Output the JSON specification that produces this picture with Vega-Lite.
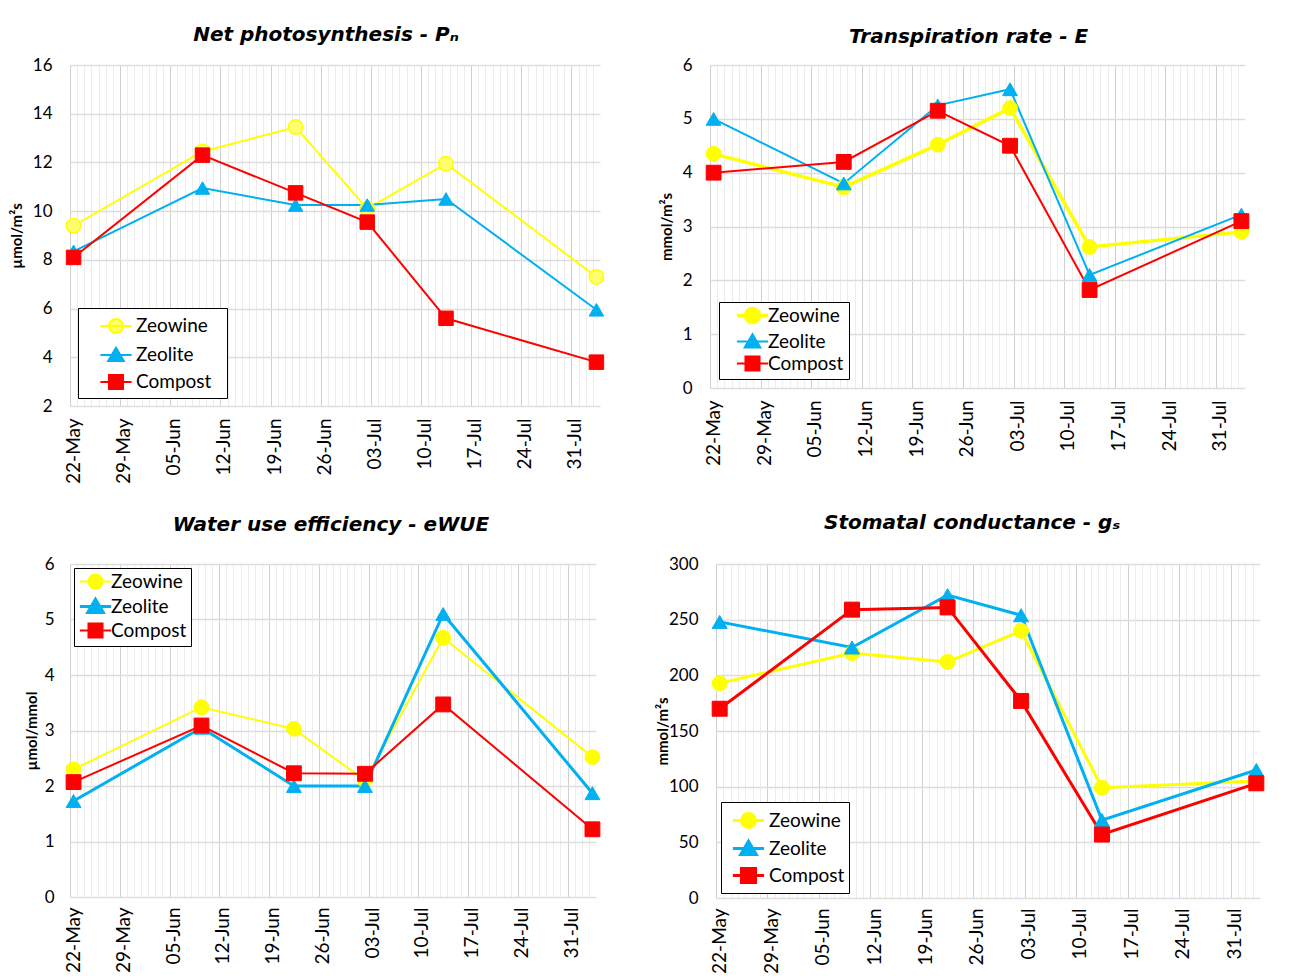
{
  "$schema": "https://vega.github.io/schema/vega-lite/v6.json",
  "background": "white",
  "padding": {"left": 9, "top": 25, "right": 0, "bottom": 0},
  "config": {
    "font": "Lato",
    "view": {"stroke": null},
    "title": {"font": "DejaVu Sans", "fontSize": 20, "fontStyle": "italic", "fontWeight": "bold", "color": "#000000", "anchor": "middle", "frame": "group"},
    "axis": {"labelColor": "#000000", "titleColor": "#000000", "domain": false, "ticks": false, "labelFont": "Lato", "titleFont": "Lato"},
    "legend": {"title": null, "labelFont": "Lato", "labelFontSize": 19, "labelColor": "#000000", "symbolSize": 676, "strokeColor": "#000000", "fillColor": "#ffffff", "padding": 4, "labelOffset": 6, "symbolOffset": 14, "titleFont": "Lato", "titleFontSize": 19}
  },
  "data": {"values": [
    {"p": "Pn", "s": "Zeowine", "d": "2019-05-22T00:00:00", "v": 9.4},
    {"p": "Pn", "s": "Zeowine", "d": "2019-06-09T00:00:00", "v": 12.45},
    {"p": "Pn", "s": "Zeowine", "d": "2019-06-22T00:00:00", "v": 13.45},
    {"p": "Pn", "s": "Zeowine", "d": "2019-07-02T00:00:00", "v": 10.1},
    {"p": "Pn", "s": "Zeowine", "d": "2019-07-13T00:00:00", "v": 11.95},
    {"p": "Pn", "s": "Zeowine", "d": "2019-08-03T00:00:00", "v": 7.3},
    {"p": "Pn", "s": "Zeolite", "d": "2019-05-22T00:00:00", "v": 8.35},
    {"p": "Pn", "s": "Zeolite", "d": "2019-06-09T00:00:00", "v": 10.95},
    {"p": "Pn", "s": "Zeolite", "d": "2019-06-22T00:00:00", "v": 10.25},
    {"p": "Pn", "s": "Zeolite", "d": "2019-07-02T00:00:00", "v": 10.25},
    {"p": "Pn", "s": "Zeolite", "d": "2019-07-13T00:00:00", "v": 10.5},
    {"p": "Pn", "s": "Zeolite", "d": "2019-08-03T00:00:00", "v": 5.95},
    {"p": "Pn", "s": "Compost", "d": "2019-05-22T00:00:00", "v": 8.1},
    {"p": "Pn", "s": "Compost", "d": "2019-06-09T00:00:00", "v": 12.3},
    {"p": "Pn", "s": "Compost", "d": "2019-06-22T00:00:00", "v": 10.75},
    {"p": "Pn", "s": "Compost", "d": "2019-07-02T00:00:00", "v": 9.55},
    {"p": "Pn", "s": "Compost", "d": "2019-07-13T00:00:00", "v": 5.6},
    {"p": "Pn", "s": "Compost", "d": "2019-08-03T00:00:00", "v": 3.8},
    {"p": "E", "s": "Zeowine", "d": "2019-05-22T00:00:00", "v": 4.35},
    {"p": "E", "s": "Zeowine", "d": "2019-06-09T00:00:00", "v": 3.73},
    {"p": "E", "s": "Zeowine", "d": "2019-06-22T00:00:00", "v": 4.52},
    {"p": "E", "s": "Zeowine", "d": "2019-07-02T00:00:00", "v": 5.2},
    {"p": "E", "s": "Zeowine", "d": "2019-07-13T00:00:00", "v": 2.62},
    {"p": "E", "s": "Zeowine", "d": "2019-08-03T00:00:00", "v": 2.9},
    {"p": "E", "s": "Zeolite", "d": "2019-05-22T00:00:00", "v": 5.0},
    {"p": "E", "s": "Zeolite", "d": "2019-06-09T00:00:00", "v": 3.8},
    {"p": "E", "s": "Zeolite", "d": "2019-06-22T00:00:00", "v": 5.25},
    {"p": "E", "s": "Zeolite", "d": "2019-07-02T00:00:00", "v": 5.55},
    {"p": "E", "s": "Zeolite", "d": "2019-07-13T00:00:00", "v": 2.1},
    {"p": "E", "s": "Zeolite", "d": "2019-08-03T00:00:00", "v": 3.22},
    {"p": "E", "s": "Compost", "d": "2019-05-22T00:00:00", "v": 4.0},
    {"p": "E", "s": "Compost", "d": "2019-06-09T00:00:00", "v": 4.2},
    {"p": "E", "s": "Compost", "d": "2019-06-22T00:00:00", "v": 5.15},
    {"p": "E", "s": "Compost", "d": "2019-07-02T00:00:00", "v": 4.5},
    {"p": "E", "s": "Compost", "d": "2019-07-13T00:00:00", "v": 1.82},
    {"p": "E", "s": "Compost", "d": "2019-08-03T00:00:00", "v": 3.1},
    {"p": "WUE", "s": "Zeowine", "d": "2019-05-22T00:00:00", "v": 2.3},
    {"p": "WUE", "s": "Zeowine", "d": "2019-06-09T00:00:00", "v": 3.42},
    {"p": "WUE", "s": "Zeowine", "d": "2019-06-22T00:00:00", "v": 3.03},
    {"p": "WUE", "s": "Zeowine", "d": "2019-07-02T00:00:00", "v": 2.1},
    {"p": "WUE", "s": "Zeowine", "d": "2019-07-13T00:00:00", "v": 4.67},
    {"p": "WUE", "s": "Zeowine", "d": "2019-08-03T00:00:00", "v": 2.52},
    {"p": "WUE", "s": "Zeolite", "d": "2019-05-22T00:00:00", "v": 1.73},
    {"p": "WUE", "s": "Zeolite", "d": "2019-06-09T00:00:00", "v": 3.05},
    {"p": "WUE", "s": "Zeolite", "d": "2019-06-22T00:00:00", "v": 2.0},
    {"p": "WUE", "s": "Zeolite", "d": "2019-07-02T00:00:00", "v": 2.0},
    {"p": "WUE", "s": "Zeolite", "d": "2019-07-13T00:00:00", "v": 5.1},
    {"p": "WUE", "s": "Zeolite", "d": "2019-08-03T00:00:00", "v": 1.87},
    {"p": "WUE", "s": "Compost", "d": "2019-05-22T00:00:00", "v": 2.07},
    {"p": "WUE", "s": "Compost", "d": "2019-06-09T00:00:00", "v": 3.09},
    {"p": "WUE", "s": "Compost", "d": "2019-06-22T00:00:00", "v": 2.23},
    {"p": "WUE", "s": "Compost", "d": "2019-07-02T00:00:00", "v": 2.22},
    {"p": "WUE", "s": "Compost", "d": "2019-07-13T00:00:00", "v": 3.47},
    {"p": "WUE", "s": "Compost", "d": "2019-08-03T00:00:00", "v": 1.22},
    {"p": "gs", "s": "Zeowine", "d": "2019-05-22T00:00:00", "v": 193},
    {"p": "gs", "s": "Zeowine", "d": "2019-06-09T00:00:00", "v": 220},
    {"p": "gs", "s": "Zeowine", "d": "2019-06-22T00:00:00", "v": 212},
    {"p": "gs", "s": "Zeowine", "d": "2019-07-02T00:00:00", "v": 240},
    {"p": "gs", "s": "Zeowine", "d": "2019-07-13T00:00:00", "v": 99},
    {"p": "gs", "s": "Zeowine", "d": "2019-08-03T00:00:00", "v": 105},
    {"p": "gs", "s": "Zeolite", "d": "2019-05-22T00:00:00", "v": 248},
    {"p": "gs", "s": "Zeolite", "d": "2019-06-09T00:00:00", "v": 225},
    {"p": "gs", "s": "Zeolite", "d": "2019-06-22T00:00:00", "v": 272},
    {"p": "gs", "s": "Zeolite", "d": "2019-07-02T00:00:00", "v": 254},
    {"p": "gs", "s": "Zeolite", "d": "2019-07-13T00:00:00", "v": 70},
    {"p": "gs", "s": "Zeolite", "d": "2019-08-03T00:00:00", "v": 115},
    {"p": "gs", "s": "Compost", "d": "2019-05-22T00:00:00", "v": 170},
    {"p": "gs", "s": "Compost", "d": "2019-06-09T00:00:00", "v": 259},
    {"p": "gs", "s": "Compost", "d": "2019-06-22T00:00:00", "v": 261},
    {"p": "gs", "s": "Compost", "d": "2019-07-02T00:00:00", "v": 177},
    {"p": "gs", "s": "Compost", "d": "2019-07-13T00:00:00", "v": 57},
    {"p": "gs", "s": "Compost", "d": "2019-08-03T00:00:00", "v": 103}
  ]},
  "spacing": 29,
  "resolve": {"scale": {"color": "independent"}, "legend": {"color": "independent"}},
  "vconcat": [
    {
      "spacing": 52,
      "resolve": {"scale": {"color": "independent"}, "legend": {"color": "independent"}},
      "hconcat": [
        {
          "width": 530, "height": 341,
          "title": {"text": "Net photosynthesis - Pₙ", "offset": 11, "dx": -9},
          "transform": [{"filter": "datum.p == 'Pn'"}],
          "encoding": {
            "x": {"field": "d", "type": "temporal",
              "scale": {"domain": [{"year": 2019, "month": 5, "date": 21, "hours": 12}, {"year": 2019, "month": 8, "date": 3, "hours": 12}]},
              "axis": {"title": null, "tickCount": {"interval": "day", "step": 1}, "labelExpr": "(dayofyear(datum.value) - 142) % 7 == 0 ? timeFormat(datum.value, '%d-%b') : ''", "labelAngle": -90, "labelAlign": "right", "labelBaseline": "middle", "labelOverlap": false, "labelFlush": false, "labelFontSize": 19, "labelPadding": 12, "tickOffset": -3.58, "labelOffset": 3.58, "grid": true, "gridWidth": 1, "gridColor": {"condition": {"test": "(dayofyear(datum.value) - 142) % 7 == 0", "value": "#d0d0d0"}, "value": "#ececec"}}},
            "y": {"field": "v", "type": "quantitative",
              "scale": {"domain": [2, 16], "nice": false, "zero": false},
              "axis": {"title": "µmol/m²s", "titleFontWeight": "bold", "titleFontSize": 15, "titlePadding": 8, "values": [2, 4, 6, 8, 10, 12, 14, 16], "labelFontSize": 17, "labelPadding": 18, "grid": true, "gridColor": "#dddddd", "gridWidth": 1.5}}
          },
          "layer": [
            {"mark": {"type": "line", "strokeWidth": 2},
             "encoding": {"color": {"field": "s", "type": "nominal",
               "scale": {"domain": ["Zeowine", "Zeolite", "Compost"], "range": ["#ffff00", "#00b0f0", "#ff0000"]},
               "legend": {"orient": "bottom-left", "offset": 8, "rowPadding": 3, "symbolOffset": 20, "title": "\u00a0", "titleOrient": "right", "titlePadding": 12,
                 "encode": {"symbols": {"update": {
                   "shape": {"signal": "datum.value == 'Zeowine' ? 'M-1.2,0H1.2M0.54,0A0.54,0.54,0,1,1,-0.54,0A0.54,0.54,0,1,1,0.54,0Z' : datum.value == 'Zeolite' ? 'M-1.2,0H1.2M0,-0.56L0.6,0.46L-0.6,0.46Z' : 'M-1.2,0H1.2M-0.54,-0.54H0.54V0.54H-0.54Z'"},
                   "fill": {"signal": "datum.value == 'Zeowine' ? '#ffff6e' : datum.value == 'Zeolite' ? '#00b0f0' : '#ff0000'"},
                   "stroke": {"signal": "datum.value == 'Zeowine' ? '#ffff00' : datum.value == 'Zeolite' ? '#00b0f0' : '#ff0000'"},
                   "strokeWidth": {"value": 2}, "opacity": {"value": 1}, "fillOpacity": {"value": 1}, "strokeOpacity": {"value": 1}}}}}}}},
            {"transform": [{"filter": "datum.s == 'Zeowine'"}], "mark": {"type": "point", "shape": "circle", "filled": true, "opacity": 1, "size": 210, "fill": "#ffff6e", "stroke": "#ffff00", "strokeWidth": 1.5}},
            {"transform": [{"filter": "datum.s == 'Zeolite'"}], "mark": {"type": "point", "shape": "triangle-up", "filled": true, "opacity": 1, "size": 210, "fill": "#00b0f0", "stroke": "#00b0f0", "strokeWidth": 1}},
            {"transform": [{"filter": "datum.s == 'Compost'"}], "mark": {"type": "point", "shape": "square", "filled": true, "opacity": 1, "size": 210, "fill": "#ff0000", "stroke": "#ff0000", "strokeWidth": 1}}
          ]
        },
        {
          "width": 535, "height": 323,
          "title": {"text": "Transpiration rate - E", "offset": 9, "dx": -9},
          "transform": [{"filter": "datum.p == 'E'"}],
          "encoding": {
            "x": {"field": "d", "type": "temporal",
              "scale": {"domain": [{"year": 2019, "month": 5, "date": 21, "hours": 12}, {"year": 2019, "month": 8, "date": 3, "hours": 12}]},
              "axis": {"title": null, "tickCount": {"interval": "day", "step": 1}, "labelExpr": "(dayofyear(datum.value) - 142) % 7 == 0 ? timeFormat(datum.value, '%d-%b') : ''", "labelAngle": -90, "labelAlign": "right", "labelBaseline": "middle", "labelOverlap": false, "labelFlush": false, "labelFontSize": 19, "labelPadding": 12, "tickOffset": -3.6, "labelOffset": 3.6, "grid": true, "gridWidth": 1, "gridColor": {"condition": {"test": "(dayofyear(datum.value) - 142) % 7 == 0", "value": "#d0d0d0"}, "value": "#ececec"}}},
            "y": {"field": "v", "type": "quantitative",
              "scale": {"domain": [0, 6], "nice": false},
              "axis": {"title": "mmol/m²s", "titleFontWeight": "bold", "titleFontSize": 15, "titlePadding": 8, "values": [0, 1, 2, 3, 4, 5, 6], "labelFontSize": 17, "labelPadding": 18, "grid": true, "gridColor": "#dddddd", "gridWidth": 1.5}}
          },
          "layer": [
            {"mark": {"type": "line"},
             "encoding": {
               "strokeWidth": {"condition": {"test": "datum.s == 'Zeowine'", "value": 3.5}, "value": 2},
               "color": {"field": "s", "type": "nominal",
               "scale": {"domain": ["Zeowine", "Zeolite", "Compost"], "range": ["#ffff00", "#00b0f0", "#ff0000"]},
               "legend": {"orient": "bottom-left", "offset": 9, "rowPadding": 0, "symbolOffset": 20, "title": "\u00a0", "titleOrient": "right", "titlePadding": 2,
                 "encode": {"symbols": {"update": {
                   "shape": {"signal": "datum.value == 'Zeowine' ? 'M-1.2,0H1.2M0.54,0A0.54,0.54,0,1,1,-0.54,0A0.54,0.54,0,1,1,0.54,0Z' : datum.value == 'Zeolite' ? 'M-1.2,0H1.2M0,-0.56L0.6,0.46L-0.6,0.46Z' : 'M-1.2,0H1.2M-0.54,-0.54H0.54V0.54H-0.54Z'"},
                   "fill": {"signal": "datum.value == 'Zeowine' ? '#ffff00' : datum.value == 'Zeolite' ? '#00b0f0' : '#ff0000'"},
                   "stroke": {"signal": "datum.value == 'Zeowine' ? '#ffff00' : datum.value == 'Zeolite' ? '#00b0f0' : '#ff0000'"},
                   "strokeWidth": {"signal": "datum.value == 'Zeowine' ? 3.5 : 2"}, "opacity": {"value": 1}, "fillOpacity": {"value": 1}, "strokeOpacity": {"value": 1}}}}}}}},
            {"transform": [{"filter": "datum.s == 'Zeowine'"}], "mark": {"type": "point", "shape": "circle", "filled": true, "opacity": 1, "size": 220, "fill": "#ffff00", "stroke": "#ffff00", "strokeWidth": 1}},
            {"transform": [{"filter": "datum.s == 'Zeolite'"}], "mark": {"type": "point", "shape": "triangle-up", "filled": true, "opacity": 1, "size": 220, "fill": "#00b0f0", "stroke": "#00b0f0", "strokeWidth": 1}},
            {"transform": [{"filter": "datum.s == 'Compost'"}], "mark": {"type": "point", "shape": "square", "filled": true, "opacity": 1, "size": 220, "fill": "#ff0000", "stroke": "#ff0000", "strokeWidth": 1}}
          ]
        }
      ]
    },
    {
      "spacing": 52,
      "resolve": {"scale": {"color": "independent"}, "legend": {"color": "independent"}},
      "hconcat": [
        {
          "width": 526, "height": 333,
          "title": {"text": "Water use efficiency - eWUE", "offset": 20, "dx": -2},
          "transform": [{"filter": "datum.p == 'WUE'"}],
          "encoding": {
            "x": {"field": "d", "type": "temporal",
              "scale": {"domain": [{"year": 2019, "month": 5, "date": 21, "hours": 12}, {"year": 2019, "month": 8, "date": 3, "hours": 12}]},
              "axis": {"title": null, "tickCount": {"interval": "day", "step": 1}, "labelExpr": "(dayofyear(datum.value) - 142) % 7 == 0 ? timeFormat(datum.value, '%d-%b') : ''", "labelAngle": -90, "labelAlign": "right", "labelBaseline": "middle", "labelOverlap": false, "labelFlush": false, "labelFontSize": 19, "labelPadding": 10, "tickOffset": -3.55, "labelOffset": 3.55, "grid": true, "gridWidth": 1, "gridColor": {"condition": {"test": "(dayofyear(datum.value) - 142) % 7 == 0", "value": "#d0d0d0"}, "value": "#ececec"}}},
            "y": {"field": "v", "type": "quantitative",
              "scale": {"domain": [0, 6], "nice": false},
              "axis": {"title": "µmol/mmol", "titleFontWeight": "bold", "titleFontSize": 15, "titlePadding": 5, "values": [0, 1, 2, 3, 4, 5, 6], "labelFontSize": 17, "labelPadding": 16, "grid": true, "gridColor": "#dddddd", "gridWidth": 1.5}}
          },
          "layer": [
            {"mark": {"type": "line"},
             "encoding": {
               "strokeWidth": {"condition": {"test": "datum.s == 'Zeolite'", "value": 3}, "value": 2},
               "color": {"field": "s", "type": "nominal",
               "scale": {"domain": ["Zeowine", "Zeolite", "Compost"], "range": ["#ffff00", "#00b0f0", "#ff0000"]},
               "legend": {"orient": "top-left", "offset": 4, "rowPadding": 0, "symbolOffset": 8,
                 "encode": {"symbols": {"update": {
                   "shape": {"signal": "datum.value == 'Zeowine' ? 'M-1.2,0H1.2M0.54,0A0.54,0.54,0,1,1,-0.54,0A0.54,0.54,0,1,1,0.54,0Z' : datum.value == 'Zeolite' ? 'M-1.2,0H1.2M0,-0.56L0.6,0.46L-0.6,0.46Z' : 'M-1.2,0H1.2M-0.54,-0.54H0.54V0.54H-0.54Z'"},
                   "fill": {"signal": "datum.value == 'Zeowine' ? '#ffff00' : datum.value == 'Zeolite' ? '#00b0f0' : '#ff0000'"},
                   "stroke": {"signal": "datum.value == 'Zeowine' ? '#ffff00' : datum.value == 'Zeolite' ? '#00b0f0' : '#ff0000'"},
                   "strokeWidth": {"signal": "datum.value == 'Zeolite' ? 3 : 2"}, "opacity": {"value": 1}, "fillOpacity": {"value": 1}, "strokeOpacity": {"value": 1}}}}}}}},
            {"transform": [{"filter": "datum.s == 'Zeowine'"}], "mark": {"type": "point", "shape": "circle", "filled": true, "opacity": 1, "size": 220, "fill": "#ffff00", "stroke": "#ffff00", "strokeWidth": 1}},
            {"transform": [{"filter": "datum.s == 'Zeolite'"}], "mark": {"type": "point", "shape": "triangle-up", "filled": true, "opacity": 1, "size": 220, "fill": "#00b0f0", "stroke": "#00b0f0", "strokeWidth": 1}},
            {"transform": [{"filter": "datum.s == 'Compost'"}], "mark": {"type": "point", "shape": "square", "filled": true, "opacity": 1, "size": 220, "fill": "#ff0000", "stroke": "#ff0000", "strokeWidth": 1}}
          ]
        },
        {
          "width": 544, "height": 334,
          "title": {"text": "Stomatal conductance - gₛ", "offset": 22, "dx": -16},
          "transform": [{"filter": "datum.p == 'gs'"}],
          "encoding": {
            "x": {"field": "d", "type": "temporal",
              "scale": {"domain": [{"year": 2019, "month": 5, "date": 21, "hours": 12}, {"year": 2019, "month": 8, "date": 3, "hours": 12}]},
              "axis": {"title": null, "tickCount": {"interval": "day", "step": 1}, "labelExpr": "(dayofyear(datum.value) - 142) % 7 == 0 ? timeFormat(datum.value, '%d-%b') : ''", "labelAngle": -90, "labelAlign": "right", "labelBaseline": "middle", "labelOverlap": false, "labelFlush": false, "labelFontSize": 19, "labelPadding": 10, "tickOffset": -3.7, "labelOffset": 3.7, "grid": true, "gridWidth": 1, "gridColor": {"condition": {"test": "(dayofyear(datum.value) - 142) % 7 == 0", "value": "#d0d0d0"}, "value": "#ececec"}}},
            "y": {"field": "v", "type": "quantitative",
              "scale": {"domain": [0, 300], "nice": false},
              "axis": {"title": "mmol/m²s", "titleFontWeight": "bold", "titleFontSize": 15, "titlePadding": -2, "values": [0, 50, 100, 150, 200, 250, 300], "labelFontSize": 17, "labelPadding": 18, "grid": true, "gridColor": "#dddddd", "gridWidth": 1.5}}
          },
          "layer": [
            {"mark": {"type": "line", "strokeWidth": 3},
             "encoding": {
               "color": {"field": "s", "type": "nominal",
               "scale": {"domain": ["Zeowine", "Zeolite", "Compost"], "range": ["#ffff00", "#00b0f0", "#ff0000"]},
               "legend": {"orient": "bottom-left", "offset": 5, "rowPadding": 0, "symbolOffset": 9,
                 "encode": {"symbols": {"update": {
                   "shape": {"signal": "datum.value == 'Zeowine' ? 'M-1.2,0H1.2M0.54,0A0.54,0.54,0,1,1,-0.54,0A0.54,0.54,0,1,1,0.54,0Z' : datum.value == 'Zeolite' ? 'M-1.2,0H1.2M0,-0.56L0.6,0.46L-0.6,0.46Z' : 'M-1.2,0H1.2M-0.54,-0.54H0.54V0.54H-0.54Z'"},
                   "fill": {"signal": "datum.value == 'Zeowine' ? '#ffff00' : datum.value == 'Zeolite' ? '#00b0f0' : '#ff0000'"},
                   "stroke": {"signal": "datum.value == 'Zeowine' ? '#ffff00' : datum.value == 'Zeolite' ? '#00b0f0' : '#ff0000'"},
                   "strokeWidth": {"value": 3}, "opacity": {"value": 1}, "fillOpacity": {"value": 1}, "strokeOpacity": {"value": 1}}}}}}}},
            {"transform": [{"filter": "datum.s == 'Zeowine'"}], "mark": {"type": "point", "shape": "circle", "filled": true, "opacity": 1, "size": 225, "fill": "#ffff00", "stroke": "#ffff00", "strokeWidth": 1}},
            {"transform": [{"filter": "datum.s == 'Zeolite'"}], "mark": {"type": "point", "shape": "triangle-up", "filled": true, "opacity": 1, "size": 225, "fill": "#00b0f0", "stroke": "#00b0f0", "strokeWidth": 1}},
            {"transform": [{"filter": "datum.s == 'Compost'"}], "mark": {"type": "point", "shape": "square", "filled": true, "opacity": 1, "size": 225, "fill": "#ff0000", "stroke": "#ff0000", "strokeWidth": 1}}
          ]
        }
      ]
    }
  ]
}
